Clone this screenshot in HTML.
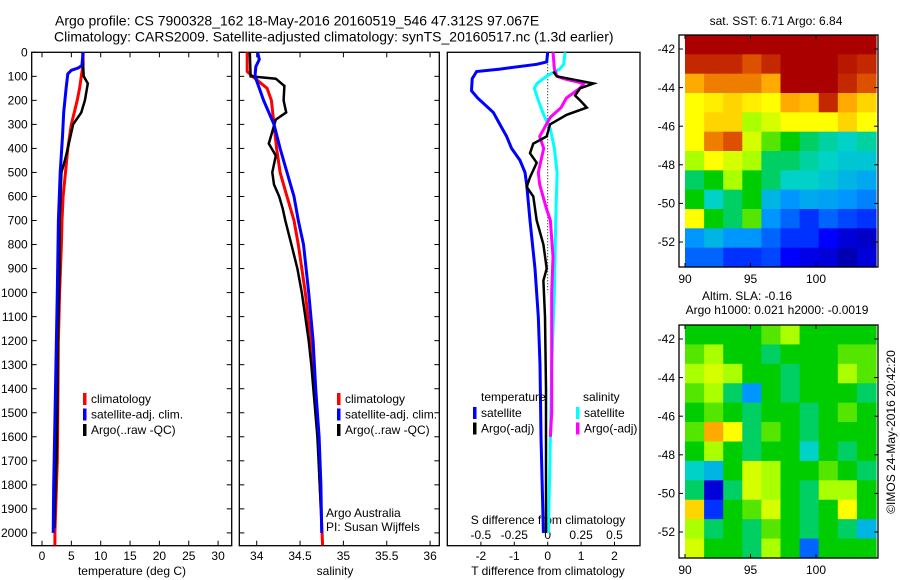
<!DOCTYPE html>
<html><head><meta charset="utf-8">
<style>
body{margin:0;background:#fff;}
svg{display:block;font-family:"Liberation Sans",sans-serif;}
text{fill:#000;}
</style></head>
<body>
<svg id="fig" width="900" height="580" viewBox="0 0 900 580" xmlns="http://www.w3.org/2000/svg">
<rect width="900" height="580" fill="#fff"/>
<text x="55" y="22" font-size="14" dominant-baseline="middle">Argo profile: CS 7900328_162 18-May-2016 20160519_546 47.312S 97.067E</text>
<text x="54" y="38" font-size="14" dominant-baseline="middle">Climatology: CARS2009. Satellite-adjusted climatology: synTS_20160517.nc (1.3d earlier)</text>
<g id="p1"></g>
<g id="p2"></g>
<g id="p3"></g>
<g id="m1"></g>
<g id="m2"></g>
<text x="0" y="0" font-size="12" transform="translate(892,432) rotate(-90)" text-anchor="middle" dominant-baseline="middle">©IMOS 24-May-2016 20:42:20</text>
</svg>
<script>
// ---------- data ----------
const tClimDepth = [0,50,100,150,200,250,300,400,500,600,700,800,1000,1200,1500,1700,2000,2052];
const tClimVal   = [7.0,7.0,6.7,6.4,6.0,5.5,5.0,4.4,4.0,3.6,3.4,3.3,3.0,2.8,2.7,2.6,2.2,2.2];
const tSatDepth  = [0,55,65,75,90,150,250,350,500,700,1000,1400,1800,2000];
const tSatVal    = [7.0,6.8,6.2,5.0,4.4,4.1,3.7,3.5,3.1,2.8,2.6,2.3,2.0,1.9];
const tArgoDepth = [0,100,130,200,250,300,400,450,500,700,900,1200,1500,1700,1980];
const tArgoVal   = [6.9,7.1,7.8,7.3,6.7,5.3,4.4,3.9,3.3,3.0,3.0,2.7,2.6,2.45,2.1];

const sClimDepth = [0,80,100,150,200,300,400,500,600,700,800,1000,1200,1400,1600,1800,2052];
const sClimVal   = [33.89,33.89,33.95,34.12,34.17,34.20,34.23,34.27,34.35,34.43,34.48,34.56,34.62,34.67,34.71,34.73,34.76];
const sSatDepth  = [0,30,60,100,150,200,250,300,400,500,600,700,800,1000,1200,1400,1600,1800,2000];
const sSatVal    = [34.01,34.03,33.99,33.98,34.03,34.08,34.14,34.20,34.27,34.35,34.43,34.48,34.54,34.60,34.65,34.68,34.72,34.74,34.75];
const sArgoDepth = [0,100,110,140,200,250,280,330,380,430,500,550,600,650,700,800,900,1000,1100,1200,1300,1600,1900];
const sArgoVal   = [33.92,33.93,34.22,34.32,34.31,34.34,34.22,34.18,34.14,34.22,34.18,34.20,34.26,34.30,34.33,34.40,34.47,34.52,34.56,34.60,34.63,34.70,34.74];

const dTSatDepth = [0,40,50,70,80,110,160,190,250,300,350,400,450,500,550,700,900,1100,1300,1600,2000];
const dTSatVal   = [0,-0.03,-0.33,-1.43,-2.13,-2.26,-2.28,-2.1,-1.63,-1.43,-1.23,-1.08,-0.83,-0.68,-0.63,-0.53,-0.38,-0.28,-0.23,-0.2,-0.13];
const dTArgoDepth = [80,100,130,150,180,200,230,260,300,350,380,420,460,520,560,600,700,800,900,950,1100,1400,2000];
const dTArgoVal   = [0.17,0.27,1.37,0.97,0.82,0.97,1.17,0.57,0.07,-0.03,-0.43,-0.53,-0.33,-0.53,-0.63,-0.43,-0.33,-0.13,-0.03,-0.13,-0.08,-0.05,-0.05];
const dSSatDepth = [0,50,70,100,130,150,200,260,320,400,500,700,1000,1300,1600,2000];
const dSSatVal   = [0.13,0.12,0.09,-0.01,-0.08,-0.10,-0.07,-0.03,0.02,0.05,0.07,0.06,0.05,0.03,0.02,0.005];
const dSArgoDepth = [0,70,100,110,130,150,190,230,270,320,350,400,500,550,650,700,850,1000,1100,1500,1600];
const dSArgoVal   = [0.04,0.05,0.07,0.12,0.27,0.24,0.14,0.10,0.02,-0.03,-0.06,-0.03,-0.07,-0.06,-0.01,0.02,0.04,0.03,0.03,0.03,0.02];

const depthTicks = [0,100,200,300,400,500,600,700,800,900,1000,1100,1200,1300,1400,1500,1600,1700,1800,1900,2000];
const tempTicks = [0,5,10,15,20,25,30];
const salTicks = [34,34.5,35,35.5,36];
const dTTicks = [-2,-1,0,1,2];
const dSTicks = [-0.5,-0.25,0,0.25,0.5];
const latTicks = [-42,-44,-46,-48,-50,-52];
const lonTicks = [90,95,100];

const sstGrid = [
 [1,1,1,1,1,1,1,1,1,1],
 [0.95,0.95,0.95,0.9,0.95,1,1,1,0.97,0.95],
 [0.8,0.85,0.85,0.85,0.8,1,1,1,0.95,0.9],
 [0.7,0.72,0.75,0.72,0.7,0.8,0.78,0.95,0.8,0.75],
 [0.7,0.75,0.75,0.6,0.65,0.7,0.7,0.7,0.75,0.7],
 [0.7,0.85,0.9,0.65,0.55,0.5,0.45,0.42,0.4,0.42],
 [0.6,0.7,0.65,0.6,0.45,0.45,0.42,0.4,0.38,0.38],
 [0.45,0.5,0.6,0.5,0.45,0.4,0.4,0.38,0.35,0.33],
 [0.5,0.4,0.45,0.5,0.35,0.3,0.33,0.32,0.3,0.28],
 [0.7,0.5,0.45,0.55,0.3,0.25,0.2,0.25,0.22,0.2],
 [0.3,0.35,0.3,0.3,0.25,0.2,0.2,0.15,0.1,0.08],
 [0.25,0.25,0.2,0.2,0.22,0.15,0.12,0.1,0.05,0.1]
];
const slaGrid = [
 [0.5,0.5,0.5,0.5,0.55,0.6,0.5,0.5,0.5,0.5],
 [0.55,0.6,0.5,0.5,0.45,0.5,0.5,0.5,0.55,0.55],
 [0.6,0.65,0.6,0.5,0.5,0.45,0.5,0.5,0.6,0.55],
 [0.55,0.6,0.45,0.3,0.5,0.45,0.5,0.5,0.5,0.45],
 [0.5,0.55,0.5,0.45,0.5,0.5,0.45,0.5,0.55,0.5],
 [0.55,0.8,0.7,0.45,0.55,0.5,0.45,0.5,0.5,0.5],
 [0.5,0.6,0.5,0.45,0.5,0.5,0.4,0.5,0.45,0.5],
 [0.4,0.35,0.5,0.65,0.6,0.5,0.5,0.55,0.5,0.45],
 [0.45,0.1,0.45,0.65,0.6,0.5,0.45,0.6,0.6,0.5],
 [0.75,0.2,0.5,0.55,0.65,0.5,0.45,0.5,0.7,0.5],
 [0.6,0.45,0.5,0.45,0.55,0.5,0.45,0.5,0.45,0.35],
 [0.65,0.5,0.5,0.45,0.6,0.5,0.25,0.5,0.5,0.5]
];

// ---------- helpers ----------
const NS = "http://www.w3.org/2000/svg";
function mk(parent, tag, attrs, name, txt){
  const e = document.createElementNS(NS, tag);
  for (const k in attrs) e.setAttribute(k, attrs[k]);
  
  
  if (txt !== undefined) e.textContent = txt;
  parent.appendChild(e);
  return e;
}
const Y0 = 52.3, YB = 545.7, PXM = 0.2403;
const yD = d => Y0 + d * PXM;
function line(g, dep, val, xf, color, w, name){
  const pts = dep.map((d,i)=> xf(val[i]).toFixed(1)+","+yD(d).toFixed(1)).join(" ");
  mk(g,'polyline',{points:pts,fill:'none',stroke:color,'stroke-width':w,'stroke-linejoin':'miter'},name);
}
function box(g,x1,x2,y1,y2,name){
  mk(g,'rect',{x:x1,y:y1,width:x2-x1,height:y2-y1,fill:'none',stroke:'#000','stroke-width':1.3},name);
}
function depthTickMarks(g,x1,x2,labels){
  depthTicks.forEach(d=>{
    const y=yD(d);
    mk(g,'line',{x1:x1,x2:x1+5,y1:y,y2:y,stroke:'#000'},'y-tick');
    mk(g,'line',{x1:x2-5,x2:x2,y1:y,y2:y,stroke:'#000'},'y-tick-right');
    if(labels) mk(g,'text',{x:x1-4,y:y+1,'font-size':12,'text-anchor':'end','dominant-baseline':'middle'},'y-tick-label',String(d));
  });
}
function legend(g,x,y,items){
  items.forEach((it,i)=>{
    mk(g,'rect',{x:x,y:y+i*15.5-6,width:3.5,height:12,fill:it[0]},'legend-swatch');
    mk(g,'text',{x:x+8,y:y+i*15.5+1,'font-size':12,'dominant-baseline':'middle'},'legend-entry',it[1]);
  });
}

// ---------- panel 1: temperature ----------
{
  const g=document.getElementById('p1');
  const xT = t => 42 + t*5.87;
  box(g,31.7,231.7,Y0,YB,'temperature-axes-box');
  depthTickMarks(g,31.7,231.7,true);
  tempTicks.forEach(t=>{
    mk(g,'line',{x1:xT(t),x2:xT(t),y1:YB,y2:YB-5,stroke:'#000'},'x-tick');
    mk(g,'line',{x1:xT(t),x2:xT(t),y1:Y0,y2:Y0+5,stroke:'#000'},'x-tick-top');
    mk(g,'text',{x:xT(t),y:557,'font-size':12,'text-anchor':'middle','dominant-baseline':'middle'},'x-tick-label',String(t));
  });
  mk(g,'text',{x:132,y:572,'font-size':12,'text-anchor':'middle','dominant-baseline':'middle'},'x-axis-title','temperature (deg C)');
  line(g,tClimDepth,tClimVal,xT,'#ff0000',3,'temp-climatology-line');
  line(g,tArgoDepth,tArgoVal,xT,'#000',2.5,'temp-argo-line');
  line(g,tSatDepth,tSatVal,xT,'#0000ff',3,'temp-satellite-line');
  legend(g,83,399,[['#ff0000','climatology'],['#0000ff','satellite-adj. clim.'],['#000','Argo(..raw -QC)']]);
}
// ---------- panel 2: salinity ----------
{
  const g=document.getElementById('p2');
  const xS = s => 256.7 + (s-34)*86.7;
  box(g,239.3,439.3,Y0,YB,'salinity-axes-box');
  depthTickMarks(g,239.3,439.3,false);
  salTicks.forEach(s=>{
    mk(g,'line',{x1:xS(s),x2:xS(s),y1:YB,y2:YB-5,stroke:'#000'},'x-tick');
    mk(g,'line',{x1:xS(s),x2:xS(s),y1:Y0,y2:Y0+5,stroke:'#000'},'x-tick-top');
    mk(g,'text',{x:xS(s),y:557,'font-size':12,'text-anchor':'middle','dominant-baseline':'middle'},'x-tick-label',String(s));
  });
  mk(g,'text',{x:335,y:572,'font-size':12,'text-anchor':'middle','dominant-baseline':'middle'},'x-axis-title','salinity');
  line(g,sClimDepth,sClimVal,xS,'#ff0000',3,'sal-climatology-line');
  line(g,sArgoDepth,sArgoVal,xS,'#000',2.5,'sal-argo-line');
  line(g,sSatDepth,sSatVal,xS,'#0000ff',3,'sal-satellite-line');
  legend(g,337,399,[['#ff0000','climatology'],['#0000ff','satellite-adj. clim.'],['#000','Argo(..raw -QC)']]);
  mk(g,'text',{x:326,y:514,'font-size':12,'dominant-baseline':'middle'},'credit-argo-australia','Argo Australia');
  mk(g,'text',{x:326,y:528,'font-size':12,'dominant-baseline':'middle'},'credit-pi','PI: Susan Wijffels');
}
// ---------- panel 3: differences ----------
{
  const g=document.getElementById('p3');
  const x0=547.7;
  const xdT = v => x0 + v*33.4;
  const xdS = v => x0 + v*133.6;
  box(g,447.3,640,Y0,YB,'difference-axes-box');
  mk(g,'line',{x1:x0,x2:x0,y1:Y0,y2:yD(1000),stroke:'#000','stroke-width':1,'stroke-dasharray':'1,2'},'zero-line');
  dTTicks.forEach(v=>{
    mk(g,'line',{x1:xdT(v),x2:xdT(v),y1:YB,y2:YB-4,stroke:'#000'},'t-tick');
    mk(g,'text',{x:xdT(v),y:557,'font-size':12,'text-anchor':'middle','dominant-baseline':'middle'},'t-tick-label',String(v));
  });
  dSTicks.forEach(v=>{
    mk(g,'text',{x:xdS(v),y:536,'font-size':12,'text-anchor':'middle','dominant-baseline':'middle'},'s-tick-label',String(v));
  });
  mk(g,'text',{x:548,y:521,'font-size':12,'text-anchor':'middle','dominant-baseline':'middle'},'s-axis-title','S difference from climatology');
  mk(g,'text',{x:548,y:572,'font-size':12,'text-anchor':'middle','dominant-baseline':'middle'},'t-axis-title','T difference from climatology');
  line(g,dSSatDepth,dSSatVal,xdS,'#00ffff',3,'s-satellite-diff-line');
  line(g,dTSatDepth,dTSatVal,xdT,'#0000ff',3,'t-satellite-diff-line');
  line(g,dSArgoDepth,dSArgoVal,xdS,'#ff00ff',3,'s-argo-diff-line');
  line(g,dTArgoDepth,dTArgoVal,xdT,'#000',2.5,'t-argo-diff-line');
  mk(g,'text',{x:481,y:398,'font-size':12,'dominant-baseline':'middle'},'legend-temperature-heading','temperature');
  mk(g,'text',{x:583,y:398,'font-size':12,'dominant-baseline':'middle'},'legend-salinity-heading','salinity');
  legend(g,473,413,[['#0000ff','satellite'],['#000','Argo(-adj)']]);
  legend(g,576,413,[['#00ffff','satellite'],['#ff00ff','Argo(-adj)']]);
}
// ---------- maps ----------
const cStops=[[0,[0,0,140]],[0.15,[0,0,255]],[0.3,[0,150,255]],[0.4,[0,210,200]],[0.5,[0,205,0]],[0.6,[170,255,0]],[0.7,[255,255,0]],[0.8,[255,170,0]],[0.9,[220,80,0]],[1,[170,0,0]]];
function cmap(v){
  for(let i=1;i<cStops.length;i++){
    if(v<=cStops[i][0]){
      const a=cStops[i-1],b=cStops[i],f=(v-a[0])/(b[0]-a[0]);
      const c=a[1].map((x,k)=>Math.round(x+(b[1][k]-x)*f));
      return `rgb(${c[0]},${c[1]},${c[2]})`;
    }
  }
  return 'rgb(170,0,0)';
}
function drawMap(g,grid,top,bot,lat42y,titleLines,nm){
  const L=679,R=878,iL=685,iR=876;
  const pxDeg=19.3, pxLon=13.1;
  const rows=grid.length, cols=grid[0].length;
  const ch=(bot-top)/rows, cw=(iR-iL)/cols;
  grid.forEach((row,i)=>row.forEach((v,j)=>{
    const r=mk(g,'rect',{x:(iL+j*cw).toFixed(2),y:(top+i*ch).toFixed(2),width:(cw+0.6).toFixed(2),height:(ch+0.6).toFixed(2),fill:cmap(v)},nm+'-cell');
  }));
  box(g,L,R,top,bot,nm+'-axes-box');
  latTicks.forEach(lat=>{
    const y=lat42y+(-42-lat)*pxDeg;
    mk(g,'line',{x1:L,x2:L+4,y1:y,y2:y,stroke:'#000'},'lat-tick');
    mk(g,'line',{x1:R-4,x2:R,y1:y,y2:y,stroke:'#000'},'lat-tick-right');
    mk(g,'text',{x:L-4,y:y+1,'font-size':12,'text-anchor':'end','dominant-baseline':'middle'},'lat-tick-label',String(lat));
  });
  lonTicks.forEach(lon=>{
    const x=iL+(lon-90)*pxLon;
    mk(g,'line',{x1:x,x2:x,y1:bot,y2:bot-4,stroke:'#000'},'lon-tick');
    mk(g,'line',{x1:x,x2:x,y1:top,y2:top+4,stroke:'#000'},'lon-tick-top');
    mk(g,'text',{x:x,y:bot+13,'font-size':12,'text-anchor':'middle','dominant-baseline':'middle'},'lon-tick-label',String(lon));
  });
  titleLines.forEach((t,i)=>{
    mk(g,'text',{x:t[1],y:t[2],'font-size':12,'text-anchor':'middle','dominant-baseline':'middle'},nm+'-title',t[0]);
  });
}
drawMap(document.getElementById('m1'),sstGrid,35,267,49,[['sat. SST: 6.71  Argo: 6.84',776,22]],'sst-map');
drawMap(document.getElementById('m2'),slaGrid,325,558,339,[['Altim. SLA: -0.16',747,297],['Argo h1000: 0.021 h2000: -0.0019',777,311]],'sla-map');
</script>
</body></html>
